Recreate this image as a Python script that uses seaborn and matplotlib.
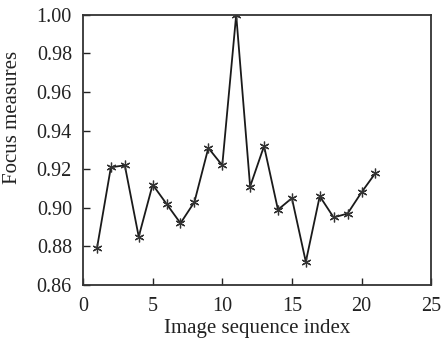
import matplotlib
matplotlib.use('Agg')
import matplotlib.pyplot as plt
import seaborn as sns
import pandas as pd

# values
image_index = [1, 2, 3, 4, 5, 6, 7, 8, 9, 10, 11,
               12, 13, 14, 15, 16, 17, 18, 19, 20, 21]
focus_measure = [0.879, 0.921, 0.922, 0.885, 0.912, 0.902, 0.892, 0.903, 0.931, 0.922, 1.000,
                 0.911, 0.932, 0.899, 0.905, 0.872, 0.906, 0.895, 0.897, 0.908, 0.918]
x_ticks = [0, 5, 10, 15, 20, 25]
y_ticks = [0.86, 0.88, 0.90, 0.92, 0.94, 0.96, 0.98, 1.00]

df = pd.DataFrame({'index': image_index, 'focus': focus_measure})

sns.set_style('ticks')
plt.rcParams['font.family'] = ['Liberation Serif', 'DejaVu Serif']

fig = plt.figure(figsize=(4.44, 3.45), dpi=100)
ax = fig.add_axes([0.187, 0.174, 0.784, 0.783])

# asterisk markers, like the original
sns.lineplot(data=df, x='index', y='focus', ax=ax, color='#1a1a1a', linewidth=1.3,
             marker=(6, 2, 0), markersize=7, markeredgewidth=0.9,
             markeredgecolor='#333333', markerfacecolor='#333333')

ax.set_xlim(0, 25)
ax.set_ylim(0.86, 1.00)
ax.set_xticks(x_ticks)
ax.set_yticks(y_ticks)
ax.set_yticklabels([f'{v:.2f}' for v in y_ticks])
ax.tick_params(direction='in', length=5, width=1.0, labelsize=14.5, colors='#222222',
               top=False, right=False)
ax.tick_params(axis='y', pad=8)
ax.tick_params(axis='x', pad=9)
for side in ['left', 'right', 'top', 'bottom']:
    ax.spines[side].set_visible(True)
    ax.spines[side].set_linewidth(1.3)
    ax.spines[side].set_color('#333333')

ax.set_xlabel('Image sequence index', fontsize=15, labelpad=2, color='#222222')
ax.set_ylabel('Focus measures', fontsize=15, color='#222222')
ax.yaxis.set_label_coords(-0.175, 0.62)

fig.savefig('out.png', dpi=100)
